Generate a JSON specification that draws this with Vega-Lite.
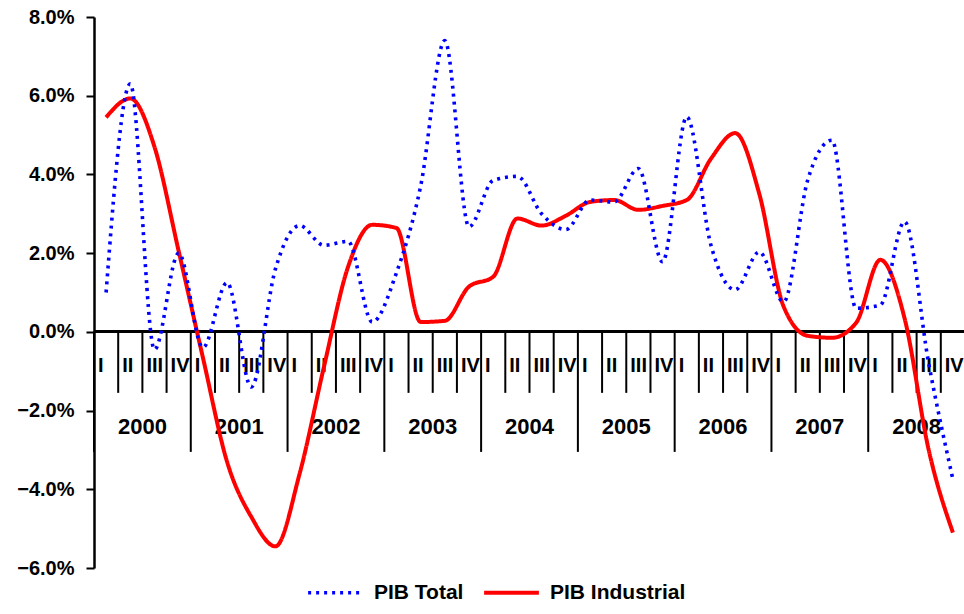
{
  "$schema": "https://vega.github.io/schema/vega-lite/v6.json",
  "width": 871,
  "height": 551,
  "autosize": {"type": "none"},
  "padding": {"left": 94, "top": 17, "right": 0, "bottom": 46},
  "background": "white",
  "config": {
    "view": {"stroke": null},
    "font": "Liberation Sans",
    "text": {"font": "Liberation Sans", "fontWeight": "bold", "color": "black"}
  },
  "data": {
    "values": [
      {"quarter": "2000-I", "year": "2000", "q": "I", "PIB Total": 1.0, "PIB Industrial": 5.45},
      {"quarter": "2000-II", "year": "2000", "q": "II", "PIB Total": 6.3, "PIB Industrial": 5.93},
      {"quarter": "2000-III", "year": "2000", "q": "III", "PIB Total": -0.45, "PIB Industrial": 4.7},
      {"quarter": "2000-IV", "year": "2000", "q": "IV", "PIB Total": 2.0, "PIB Industrial": 2.05},
      {"quarter": "2001-I", "year": "2001", "q": "I", "PIB Total": -0.4, "PIB Industrial": -0.65},
      {"quarter": "2001-II", "year": "2001", "q": "II", "PIB Total": 1.25, "PIB Industrial": -3.3},
      {"quarter": "2001-III", "year": "2001", "q": "III", "PIB Total": -1.4, "PIB Industrial": -4.7},
      {"quarter": "2001-IV", "year": "2001", "q": "IV", "PIB Total": 1.6, "PIB Industrial": -5.45},
      {"quarter": "2002-I", "year": "2002", "q": "I", "PIB Total": 2.7, "PIB Industrial": -3.6},
      {"quarter": "2002-II", "year": "2002", "q": "II", "PIB Total": 2.2, "PIB Industrial": -0.9},
      {"quarter": "2002-III", "year": "2002", "q": "III", "PIB Total": 2.3, "PIB Industrial": 1.65},
      {"quarter": "2002-IV", "year": "2002", "q": "IV", "PIB Total": 0.25, "PIB Industrial": 2.72},
      {"quarter": "2003-I", "year": "2003", "q": "I", "PIB Total": 1.5, "PIB Industrial": 2.64},
      {"quarter": "2003-II", "year": "2003", "q": "II", "PIB Total": 3.7, "PIB Industrial": 0.25},
      {"quarter": "2003-III", "year": "2003", "q": "III", "PIB Total": 7.4, "PIB Industrial": 0.28},
      {"quarter": "2003-IV", "year": "2003", "q": "IV", "PIB Total": 2.67, "PIB Industrial": 1.15},
      {"quarter": "2004-I", "year": "2004", "q": "I", "PIB Total": 3.85, "PIB Industrial": 1.4},
      {"quarter": "2004-II", "year": "2004", "q": "II", "PIB Total": 3.95, "PIB Industrial": 2.88},
      {"quarter": "2004-III", "year": "2004", "q": "III", "PIB Total": 3.0, "PIB Industrial": 2.7},
      {"quarter": "2004-IV", "year": "2004", "q": "IV", "PIB Total": 2.6, "PIB Industrial": 2.95},
      {"quarter": "2005-I", "year": "2005", "q": "I", "PIB Total": 3.35, "PIB Industrial": 3.3},
      {"quarter": "2005-II", "year": "2005", "q": "II", "PIB Total": 3.3, "PIB Industrial": 3.35},
      {"quarter": "2005-III", "year": "2005", "q": "III", "PIB Total": 4.15, "PIB Industrial": 3.1},
      {"quarter": "2005-IV", "year": "2005", "q": "IV", "PIB Total": 1.78, "PIB Industrial": 3.2},
      {"quarter": "2006-I", "year": "2006", "q": "I", "PIB Total": 5.46, "PIB Industrial": 3.35},
      {"quarter": "2006-II", "year": "2006", "q": "II", "PIB Total": 2.2, "PIB Industrial": 4.4},
      {"quarter": "2006-III", "year": "2006", "q": "III", "PIB Total": 1.07, "PIB Industrial": 5.05},
      {"quarter": "2006-IV", "year": "2006", "q": "IV", "PIB Total": 2.03, "PIB Industrial": 3.5},
      {"quarter": "2007-I", "year": "2007", "q": "I", "PIB Total": 0.76, "PIB Industrial": 0.65},
      {"quarter": "2007-II", "year": "2007", "q": "II", "PIB Total": 3.86, "PIB Industrial": -0.1},
      {"quarter": "2007-III", "year": "2007", "q": "III", "PIB Total": 4.87, "PIB Industrial": -0.15},
      {"quarter": "2007-IV", "year": "2007", "q": "IV", "PIB Total": 0.6, "PIB Industrial": 0.23},
      {"quarter": "2008-I", "year": "2008", "q": "I", "PIB Total": 0.68, "PIB Industrial": 1.83},
      {"quarter": "2008-II", "year": "2008", "q": "II", "PIB Total": 2.8, "PIB Industrial": 0.35},
      {"quarter": "2008-III", "year": "2008", "q": "III", "PIB Total": -0.8, "PIB Industrial": -3.0},
      {"quarter": "2008-IV", "year": "2008", "q": "IV", "PIB Total": -3.75, "PIB Industrial": -5.1}
    ]
  },
  "encoding": {
    "x": {"field": "quarter", "type": "ordinal", "axis": null,
          "scale": {"paddingInner": 0, "paddingOuter": 0,
            "domain": ["2000-I","2000-II","2000-III","2000-IV","2001-I","2001-II","2001-III","2001-IV","2002-I","2002-II","2002-III","2002-IV","2003-I","2003-II","2003-III","2003-IV","2004-I","2004-II","2004-III","2004-IV","2005-I","2005-II","2005-III","2005-IV","2006-I","2006-II","2006-III","2006-IV","2007-I","2007-II","2007-III","2007-IV","2008-I","2008-II","2008-III","2008-IV"]}}
  },
  "layer": [
    {
      "mark": {"type": "rule", "color": "black", "strokeWidth": 2},
      "transform": [{"filter": "datum.q != 'I'"}],
      "encoding": {
        "x": {"field": "quarter", "type": "ordinal", "bandPosition": 0},
        "y": {"datum": 0},
        "y2": {"datum": -1.55}
      }
    },
    {
      "mark": {"type": "rule", "color": "black", "strokeWidth": 2},
      "transform": [{"filter": "datum.q == 'I'"}],
      "encoding": {
        "x": {"field": "quarter", "type": "ordinal", "bandPosition": 0},
        "y": {"datum": 0},
        "y2": {"datum": -3.05}
      }
    },
    {
      "mark": {"type": "rule", "color": "black", "strokeWidth": 2},
      "encoding": {"x": null, "y": {"datum": 0}}
    },
    {
      "mark": {"type": "text", "align": "left", "baseline": "middle", "dx": 4, "fontSize": 20},
      "encoding": {
        "x": {"field": "quarter", "type": "ordinal", "bandPosition": 0},
        "y": {"datum": -0.86},
        "text": {"field": "q"}
      }
    },
    {
      "mark": {"type": "text", "align": "center", "baseline": "middle", "fontSize": 22},
      "transform": [{"filter": "datum.q == 'III'"}],
      "encoding": {
        "x": {"field": "quarter", "type": "ordinal", "bandPosition": 0},
        "y": {"datum": -2.41},
        "text": {"field": "year"}
      }
    },
    {
      "transform": [{"fold": ["PIB Industrial", "PIB Total"], "as": ["serie", "valor"]}],
      "mark": {"type": "line", "interpolate": "monotone"},
      "encoding": {
        "y": {
          "field": "valor", "type": "quantitative",
          "scale": {"domain": [-6, 8], "nice": false, "zero": false},
          "axis": {
            "values": [-6, -4, -2, 0, 2, 4, 6, 8],
            "labelExpr": "format(datum.value, '.1f') + '%'",
            "title": null, "grid": false,
            "domainColor": "black", "domainWidth": 2.5,
            "tickColor": "black", "tickWidth": 2, "tickSize": 8,
            "labelFont": "Liberation Sans", "labelFontWeight": "bold",
            "labelFontSize": 20, "labelColor": "black", "labelPadding": 12
          }
        },
        "color": {
          "field": "serie", "type": "nominal",
          "scale": {"domain": ["PIB Total", "PIB Industrial"], "range": ["#0000FF", "#FF0000"]},
          "legend": {
            "title": null, "orient": "none", "direction": "horizontal",
            "legendX": 212, "legendY": 546,
            "symbolType": "stroke", "symbolSize": 3000, "symbolStrokeWidth": 3.8,
            "labelFont": "Liberation Sans", "labelFontWeight": "bold", "labelFontSize": 21,
            "labelColor": "black", "labelOffset": 9, "columnPadding": 12, "padding": 0,
            "symbolOffset": 0
          }
        },
        "strokeDash": {
          "field": "serie", "type": "nominal",
          "scale": {"domain": ["PIB Total", "PIB Industrial"], "range": [[3, 5], [1, 0]]}
        },
        "strokeWidth": {
          "field": "serie", "type": "nominal",
          "scale": {"domain": ["PIB Total", "PIB Industrial"], "range": [3.6, 4]},
          "legend": null
        }
      }
    }
  ]
}
